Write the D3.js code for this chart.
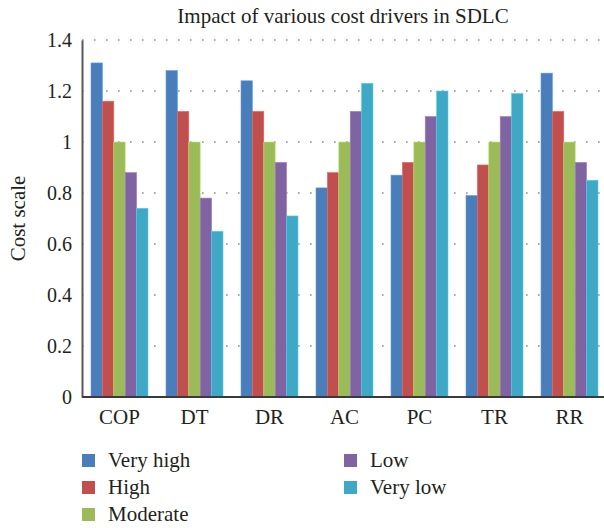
<!DOCTYPE html>
<html>
<head>
<meta charset="utf-8">
<script src="https://cdn.jsdelivr.net/npm/d3@7"></script>
<style>
  html, body { margin: 0; padding: 0; background: #fff; }
  svg { display: block; }
  text { font-family: "Liberation Serif", "Times New Roman", serif; fill: #231f20; }
</style>
</head>
<body>
<svg id="chart" width="604" height="528"></svg>
<script>
const categories = ["COP", "DT", "DR", "AC", "PC", "TR", "RR"];
const seriesNames = ["Very high", "High", "Moderate", "Low", "Very low"];
const veryHigh = [1.31, 1.28, 1.24, 0.82, 0.87, 0.79, 1.27];
const high     = [1.16, 1.12, 1.12, 0.88, 0.92, 0.91, 1.12];
const moderate = [1.00, 1.00, 1.00, 1.00, 1.00, 1.00, 1.00];
const low      = [0.88, 0.78, 0.92, 1.12, 1.10, 1.10, 0.92];
const veryLow  = [0.74, 0.65, 0.71, 1.23, 1.20, 1.19, 0.85];
const colors = ["#4a7ebb", "#c0504d", "#9bbb59", "#8064a2", "#3fa9c5"];
const yTicks = [0, 0.2, 0.4, 0.6, 0.8, 1, 1.2, 1.4];
const yTickLabels = ["0", "0.2", "0.4", "0.6", "0.8", "1", "1.2", "1.4"];
const title = "Impact of various cost drivers in SDLC";
const yTitle = "Cost scale";

const seriesValues = [veryHigh, high, moderate, low, veryLow];

const svg = d3.select("#chart");
const mLeft = 82, mRight = 607, mTop = 40, mBottom = 397;

const x = d3.scaleBand().domain(categories).range([mLeft, mRight]).paddingInner(0.24).paddingOuter(0.12);
const xs = d3.scaleBand().domain(seriesNames).range([0, x.bandwidth()]);
const y = d3.scaleLinear().domain([0, 1.4]).range([mBottom, mTop]);

// gridlines
svg.append("g").selectAll("line").data(yTicks.filter(d => d > 0)).join("line")
  .attr("x1", mLeft).attr("x2", 604)
  .attr("y1", d => y(d)).attr("y2", d => y(d))
  .attr("stroke", "#8a8a8a").attr("stroke-width", 1.6)
  .attr("stroke-dasharray", "1.6,10.4");

// bars
const groups = svg.append("g").selectAll("g").data(categories).join("g")
  .attr("transform", d => `translate(${x(d)},0)`);
groups.selectAll("rect")
  .data((c, i) => seriesNames.map((s, j) => ({ s, j, v: seriesValues[j][i] })))
  .join("rect")
  .attr("x", d => xs(d.s))
  .attr("y", d => y(d.v))
  .attr("width", xs.bandwidth())
  .attr("height", d => y(0) - y(d.v))
  .attr("fill", d => colors[d.j])
  .attr("stroke", d => d3.color(colors[d.j]).brighter(0.6))
  .attr("stroke-width", 0.6);

// y axis
const yAxis = d3.axisLeft(y).tickValues(yTicks)
  .tickFormat((d, i) => yTickLabels[i]).tickSize(0).tickPadding(10);
const ya = svg.append("g").attr("transform", `translate(${mLeft},0)`).call(yAxis);
ya.attr("font-family", null);
ya.select(".domain").attr("stroke", "#595959").attr("stroke-width", 2);
ya.selectAll("text").attr("font-size", 20).attr("fill", "#231f20");

// x axis
const xAxis = d3.axisBottom(x).tickSize(0).tickPadding(12);
const xa = svg.append("g").attr("transform", `translate(0,${mBottom})`).call(xAxis);
xa.attr("font-family", null);
xa.select(".domain").attr("d", `M${mLeft},0H604`).attr("stroke", "#3a3a3a").attr("stroke-width", 2);
xa.selectAll("text").attr("font-size", 21).attr("fill", "#231f20");

// title
svg.append("text").attr("x", 343).attr("y", 23).attr("text-anchor", "middle")
  .attr("font-size", 21).text(title);

// y title
svg.append("text").attr("transform", `translate(25,${(mTop + mBottom) / 2}) rotate(-90)`)
  .attr("text-anchor", "middle").attr("font-size", 21).text(yTitle);

// legend
const legendPos = [
  { x: 82, y: 454 }, { x: 82, y: 481 }, { x: 82, y: 508 },
  { x: 344, y: 454 }, { x: 344, y: 481 }
];
const lg = svg.append("g").selectAll("g").data(seriesNames).join("g")
  .attr("transform", (d, i) => `translate(${legendPos[i].x},${legendPos[i].y})`);
lg.append("rect").attr("width", 13).attr("height", 13).attr("fill", (d, i) => colors[i]);
lg.append("text").attr("x", 26).attr("y", 13).attr("font-size", 21).text(d => d);
</script>
</body>
</html>
